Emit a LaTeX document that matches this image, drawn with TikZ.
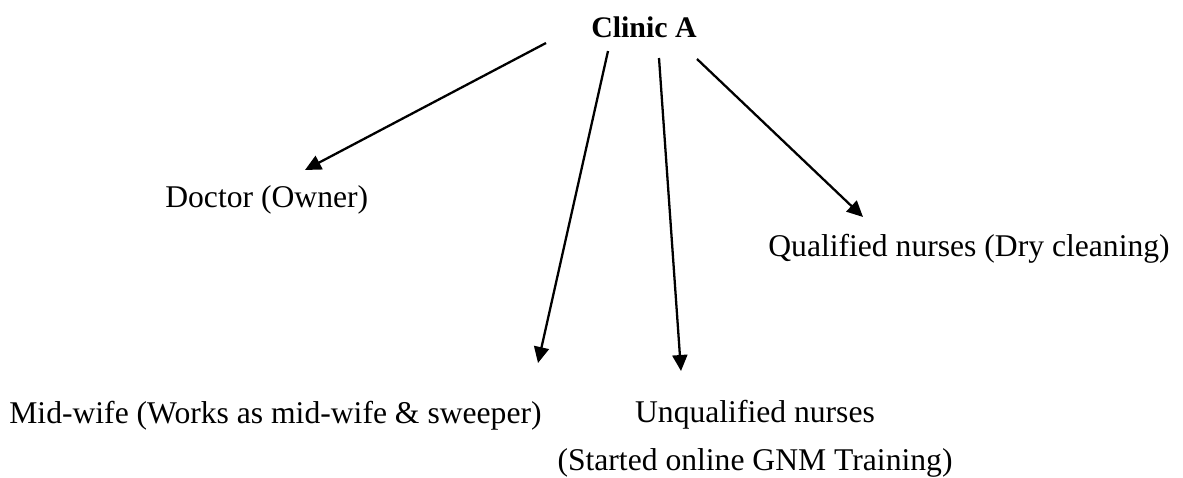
\documentclass[tikz,border=0pt]{standalone}
\usepackage{fontspec}
\setmainfont{Liberation Serif}
\usetikzlibrary{arrows.meta}
\tikzset{
  role/.style={anchor=base west, inner sep=0pt, font=\fontsize{18}{27}\selectfont},
  link/.style={line width=1.3pt, -{Triangle[length=3.2mm,width=3mm]}}
}
\begin{document}
\begin{tikzpicture}[x=0.02cm, y=-0.02cm]
      \useasboundingbox (0,0) rectangle (1183,477);

      % Clinic
      \node[anchor=base, inner sep=0pt, font=\fontsize{17}{20}\selectfont\bfseries] (clinic) at (644,37) {Clinic A};

      % Staff
      \node[role] (doctor) at (165,207) {Doctor (Owner)};
      \node[role] (qualified) at (768,256) {Qualified nurses (Dry cleaning)};
      \node[role] (midwife) at (9,423) {Mid-wife (Works as mid-wife \& sweeper)};
      \node[role, anchor=base, align=center] (unqualified) at (755,470) {Unqualified nurses\\(Started online GNM Training)};

      % Arrow ends
      \coordinate (s1) at (546,43);  \coordinate (t1) at (305,170);
      \coordinate (s2) at (608,51);  \coordinate (t2) at (538,363);
      \coordinate (s3) at (659,58);  \coordinate (t3) at (681,371);
      \coordinate (s4) at (697,59);  \coordinate (t4) at (863,217);

      \foreach \i in {1,...,4}{
          \draw[link] (s\i) -- (t\i);
        }
    \end{tikzpicture}
\end{document}
